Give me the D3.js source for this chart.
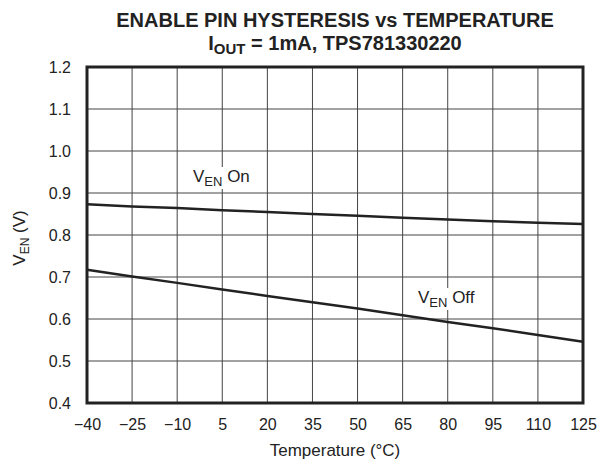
<!DOCTYPE html>
<html>
<head>
<meta charset="utf-8">
<script src="https://cdn.jsdelivr.net/npm/d3@7"></script>
<style>
  body { margin: 0; background: #fff; }
  svg { font-family: Arial, "Liberation Sans", Helvetica, sans-serif; }
</style>
</head>
<body>
<svg id="chart" width="610" height="464"></svg>
<script>
// temperature ticks (°C)
var temps = [-40, -25, -10, 5, 20, 35, 50, 65, 80, 95, 110, 125];
var yTicks = [0.4, 0.5, 0.6, 0.7, 0.8, 0.9, 1.0, 1.1, 1.2];
var venOn  = [0.873, 0.868, 0.864, 0.859, 0.855, 0.850, 0.846, 0.841, 0.837, 0.833, 0.829, 0.826];
var venOff = [0.717, 0.701, 0.686, 0.670, 0.655, 0.640, 0.625, 0.609, 0.593, 0.578, 0.562, 0.546];

var margin = {top: 67, right: 27, bottom: 61, left: 87},
    width = 610 - margin.left - margin.right,
    height = 464 - margin.top - margin.bottom;

var svg = d3.select("#chart");
var g = svg.append("g").attr("transform", "translate(" + margin.left + "," + margin.top + ")");

var x = d3.scaleLinear().domain([-40, 125]).range([0, width]);
var y = d3.scaleLinear().domain([0.4, 1.2]).range([height, 0]);

// grid
g.append("g").selectAll("line").data(temps.slice(1, -1)).enter().append("line")
    .attr("x1", function (d) { return x(d); }).attr("x2", function (d) { return x(d); })
    .attr("y1", 0).attr("y2", height)
    .attr("stroke", "#444").attr("stroke-width", 1);
g.append("g").selectAll("line").data(yTicks.slice(1, -1)).enter().append("line")
    .attr("y1", function (d) { return y(d); }).attr("y2", function (d) { return y(d); })
    .attr("x1", 0).attr("x2", width)
    .attr("stroke", "#444").attr("stroke-width", 1);

// axes labels (no tick marks)
var xAxis = d3.axisBottom(x).tickValues(temps).tickSize(0).tickPadding(16)
    .tickFormat(function (d) { return d < 0 ? "\u2212" + Math.abs(d) : d; });
var gx = g.append("g").attr("transform", "translate(0," + height + ")").call(xAxis);
gx.select(".domain").remove();
gx.selectAll("text").attr("font-size", 16).attr("fill", "#222").attr("font-family", null);

var yAxis = d3.axisLeft(y).tickValues(yTicks).tickSize(0).tickPadding(16).tickFormat(d3.format(".1f"));
var gy = g.append("g").call(yAxis);
gy.select(".domain").remove();
gy.selectAll("text").attr("font-size", 16).attr("fill", "#222").attr("font-family", null);

// data lines
var line = d3.line()
    .x(function (d, i) { return x(temps[i]); })
    .y(function (d) { return y(d); });

[venOn, venOff].forEach(function (s) {
    g.append("path").datum(s)
        .attr("d", line)
        .attr("fill", "none")
        .attr("stroke", "#222")
        .attr("stroke-width", 2.5);
});

// series labels with white backing
function seriesLabel(tx, ty, word) {
    var t = g.append("text").attr("x", tx).attr("y", ty)
        .attr("font-size", 17).attr("fill", "#222");
    t.append("tspan").text("V");
    t.append("tspan").attr("font-size", 13).attr("dy", 4).text("EN");
    t.append("tspan").attr("dy", -4).text(" " + word);
    var bb = t.node().getBBox();
    g.insert("rect", function () { return t.node(); })
        .attr("x", bb.x - 3).attr("y", bb.y).attr("width", bb.width + 6).attr("height", bb.height)
        .attr("fill", "#fff");
}
seriesLabel(193 - margin.left, 182 - margin.top, "On");
seriesLabel(418 - margin.left, 303 - margin.top, "Off");

// frame
g.append("rect").attr("width", width).attr("height", height)
    .attr("fill", "none").attr("stroke", "#222").attr("stroke-width", 3);

// titles
var cx = margin.left + width / 2;
svg.append("text").attr("x", cx).attr("y", 27)
    .attr("text-anchor", "middle").attr("font-size", 20).attr("font-weight", "bold").attr("fill", "#222")
    .text("ENABLE PIN HYSTERESIS vs TEMPERATURE");
var sub = svg.append("text").attr("x", cx).attr("y", 50)
    .attr("text-anchor", "middle").attr("font-size", 20).attr("font-weight", "bold").attr("fill", "#222");
sub.append("tspan").text("I");
sub.append("tspan").attr("font-size", 15).attr("dy", 4).text("OUT");
sub.append("tspan").attr("dy", -4).text(" = 1mA, TPS781330220");

svg.append("text").attr("x", cx).attr("y", 456)
    .attr("text-anchor", "middle").attr("font-size", 17).attr("fill", "#222")
    .text("Temperature (\u00B0C)");

var yl = svg.append("text").attr("transform", "translate(25," + (margin.top + height / 2 + 3) + ")rotate(-90)")
    .attr("text-anchor", "middle").attr("font-size", 17).attr("fill", "#222");
yl.append("tspan").text("V");
yl.append("tspan").attr("font-size", 12).attr("dy", 4).text("EN");
yl.append("tspan").attr("dy", -4).text(" (V)");
</script>
</body>
</html>
